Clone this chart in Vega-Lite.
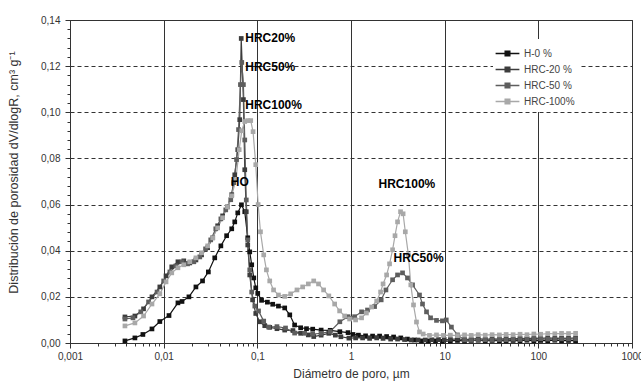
{
"$schema": "https://vega.github.io/schema/vega-lite/v6.json",
"width": 562, "height": 323,
"autosize": {"type": "none"},
"padding": {"left": 70, "top": 20, "right": 9, "bottom": 40},
"background": "white",
"config": {"font": "Liberation Sans", "view": {"stroke": "#333", "strokeWidth": 1}},
"datasets": {
"series": [
{"s":"H-0 %","x":0.00386,"y":0.0009},{"s":"H-0 %","x":0.00493,"y":0.0022},{"s":"H-0 %","x":0.0060,"y":0.0037},{"s":"H-0 %","x":0.0075,"y":0.0061},{"s":"H-0 %","x":0.0091,"y":0.0093},{"s":"H-0 %","x":0.0114,"y":0.0119},{"s":"H-0 %","x":0.0142,"y":0.0174},{"s":"H-0 %","x":0.0157,"y":0.0180},{"s":"H-0 %","x":0.0186,"y":0.0200},{"s":"H-0 %","x":0.0221,"y":0.0243},{"s":"H-0 %","x":0.026,"y":0.0269},{"s":"H-0 %","x":0.030,"y":0.0308},{"s":"H-0 %","x":0.0351,"y":0.0369},{"s":"H-0 %","x":0.0408,"y":0.0421},{"s":"H-0 %","x":0.047,"y":0.0465},{"s":"H-0 %","x":0.0533,"y":0.0495},{"s":"H-0 %","x":0.0574,"y":0.0525},{"s":"H-0 %","x":0.0618,"y":0.0564},{"s":"H-0 %","x":0.0677,"y":0.0599},{"s":"H-0 %","x":0.0734,"y":0.0569},{"s":"H-0 %","x":0.079,"y":0.0456},{"s":"H-0 %","x":0.083,"y":0.0395},{"s":"H-0 %","x":0.0871,"y":0.0339},{"s":"H-0 %","x":0.0916,"y":0.0282},{"s":"H-0 %","x":0.0962,"y":0.0239},{"s":"H-0 %","x":0.101,"y":0.0215},{"s":"H-0 %","x":0.111,"y":0.0185},{"s":"H-0 %","x":0.128,"y":0.0177},{"s":"H-0 %","x":0.146,"y":0.0168},{"s":"H-0 %","x":0.168,"y":0.0160},{"s":"H-0 %","x":0.196,"y":0.0152},{"s":"H-0 %","x":0.222,"y":0.0122},{"s":"H-0 %","x":0.25,"y":0.0078},{"s":"H-0 %","x":0.29,"y":0.0066},{"s":"H-0 %","x":0.335,"y":0.0062},{"s":"H-0 %","x":0.39,"y":0.0060},{"s":"H-0 %","x":0.48,"y":0.0056},{"s":"H-0 %","x":0.60,"y":0.0055},{"s":"H-0 %","x":0.76,"y":0.0049},{"s":"H-0 %","x":0.93,"y":0.0045},{"s":"H-0 %","x":1.05,"y":0.0037},{"s":"H-0 %","x":1.2,"y":0.0034},{"s":"H-0 %","x":1.43,"y":0.0031},{"s":"H-0 %","x":1.7,"y":0.0030},{"s":"H-0 %","x":2.02,"y":0.0030},{"s":"H-0 %","x":2.4,"y":0.0028},{"s":"H-0 %","x":2.85,"y":0.0026},{"s":"H-0 %","x":3.4,"y":0.0022},{"s":"H-0 %","x":4.0,"y":0.0017},{"s":"H-0 %","x":4.76,"y":0.0013},{"s":"H-0 %","x":5.65,"y":0.0009},{"s":"H-0 %","x":6.7,"y":0.0009},{"s":"H-0 %","x":7.98,"y":0.0009},{"s":"H-0 %","x":9.46,"y":0.0007},{"s":"H-0 %","x":11.5,"y":0.0009},{"s":"H-0 %","x":13.7,"y":0.0011},{"s":"H-0 %","x":16.3,"y":0.0008},{"s":"H-0 %","x":19.2,"y":0.0010},{"s":"H-0 %","x":22.8,"y":0.0012},{"s":"H-0 %","x":27.1,"y":0.0009},{"s":"H-0 %","x":32.1,"y":0.0011},{"s":"H-0 %","x":38.4,"y":0.0010},{"s":"H-0 %","x":45.3,"y":0.0009},{"s":"H-0 %","x":53.8,"y":0.0011},{"s":"H-0 %","x":63.8,"y":0.0010},{"s":"H-0 %","x":75.6,"y":0.0012},{"s":"H-0 %","x":89.6,"y":0.0009},{"s":"H-0 %","x":106,"y":0.0011},{"s":"H-0 %","x":126,"y":0.0010},{"s":"H-0 %","x":150,"y":0.0012},{"s":"H-0 %","x":177,"y":0.0010},{"s":"H-0 %","x":210,"y":0.0011},{"s":"H-0 %","x":250,"y":0.0010},
{"s":"HRC-20 %","x":0.00386,"y":0.0113},{"s":"HRC-20 %","x":0.00493,"y":0.0117},{"s":"HRC-20 %","x":0.0061,"y":0.0148},{"s":"HRC-20 %","x":0.0075,"y":0.0200},{"s":"HRC-20 %","x":0.0091,"y":0.0243},{"s":"HRC-20 %","x":0.0106,"y":0.0291},{"s":"HRC-20 %","x":0.0122,"y":0.0330},{"s":"HRC-20 %","x":0.0142,"y":0.0352},{"s":"HRC-20 %","x":0.0164,"y":0.0356},{"s":"HRC-20 %","x":0.019,"y":0.0347},{"s":"HRC-20 %","x":0.0221,"y":0.0360},{"s":"HRC-20 %","x":0.0254,"y":0.0382},{"s":"HRC-20 %","x":0.0295,"y":0.0413},{"s":"HRC-20 %","x":0.0334,"y":0.0456},{"s":"HRC-20 %","x":0.0377,"y":0.0508},{"s":"HRC-20 %","x":0.0426,"y":0.0551},{"s":"HRC-20 %","x":0.048,"y":0.0590},{"s":"HRC-20 %","x":0.0533,"y":0.0643},{"s":"HRC-20 %","x":0.0574,"y":0.0729},{"s":"HRC-20 %","x":0.0618,"y":0.0838},{"s":"HRC-20 %","x":0.0649,"y":0.0968},{"s":"HRC-20 %","x":0.0673,"y":0.1320},{"s":"HRC-20 %","x":0.071,"y":0.1055},{"s":"HRC-20 %","x":0.0734,"y":0.0751},{"s":"HRC-20 %","x":0.0762,"y":0.0569},{"s":"HRC-20 %","x":0.079,"y":0.0425},{"s":"HRC-20 %","x":0.083,"y":0.0295},{"s":"HRC-20 %","x":0.089,"y":0.0187},{"s":"HRC-20 %","x":0.0962,"y":0.0128},{"s":"HRC-20 %","x":0.106,"y":0.0092},{"s":"HRC-20 %","x":0.12,"y":0.0075},{"s":"HRC-20 %","x":0.1356,"y":0.0068},{"s":"HRC-20 %","x":0.162,"y":0.0062},{"s":"HRC-20 %","x":0.196,"y":0.0056},{"s":"HRC-20 %","x":0.24,"y":0.0054},{"s":"HRC-20 %","x":0.29,"y":0.0042},{"s":"HRC-20 %","x":0.35,"y":0.0035},{"s":"HRC-20 %","x":0.40,"y":0.0028},{"s":"HRC-20 %","x":0.48,"y":0.0034},{"s":"HRC-20 %","x":0.58,"y":0.0042},{"s":"HRC-20 %","x":0.68,"y":0.0034},{"s":"HRC-20 %","x":0.78,"y":0.0027},{"s":"HRC-20 %","x":0.95,"y":0.0021},{"s":"HRC-20 %","x":1.12,"y":0.0022},{"s":"HRC-20 %","x":1.33,"y":0.0022},{"s":"HRC-20 %","x":1.58,"y":0.0020},{"s":"HRC-20 %","x":1.88,"y":0.0022},{"s":"HRC-20 %","x":2.2,"y":0.0020},{"s":"HRC-20 %","x":2.65,"y":0.0017},{"s":"HRC-20 %","x":3.14,"y":0.0017},{"s":"HRC-20 %","x":3.73,"y":0.0015},{"s":"HRC-20 %","x":4.4,"y":0.0013},{"s":"HRC-20 %","x":5.2,"y":0.0013},{"s":"HRC-20 %","x":6.2,"y":0.0013},{"s":"HRC-20 %","x":7.3,"y":0.0014},{"s":"HRC-20 %","x":8.6,"y":0.0015},{"s":"HRC-20 %","x":9.9,"y":0.0015},{"s":"HRC-20 %","x":11.5,"y":0.0016},{"s":"HRC-20 %","x":13.7,"y":0.0018},{"s":"HRC-20 %","x":16.3,"y":0.0015},{"s":"HRC-20 %","x":19.2,"y":0.0017},{"s":"HRC-20 %","x":22.8,"y":0.0019},{"s":"HRC-20 %","x":27.1,"y":0.0016},{"s":"HRC-20 %","x":32.1,"y":0.0018},{"s":"HRC-20 %","x":38.4,"y":0.0017},{"s":"HRC-20 %","x":45.3,"y":0.0019},{"s":"HRC-20 %","x":53.8,"y":0.0018},{"s":"HRC-20 %","x":63.8,"y":0.0020},{"s":"HRC-20 %","x":75.6,"y":0.0019},{"s":"HRC-20 %","x":89.6,"y":0.0021},{"s":"HRC-20 %","x":106,"y":0.0020},{"s":"HRC-20 %","x":126,"y":0.0022},{"s":"HRC-20 %","x":150,"y":0.0020},{"s":"HRC-20 %","x":177,"y":0.0021},{"s":"HRC-20 %","x":210,"y":0.0020},{"s":"HRC-20 %","x":250,"y":0.0022},
{"s":"HRC-50 %","x":0.00386,"y":0.0104},{"s":"HRC-50 %","x":0.0047,"y":0.0109},{"s":"HRC-50 %","x":0.0057,"y":0.0135},{"s":"HRC-50 %","x":0.0069,"y":0.0178},{"s":"HRC-50 %","x":0.0085,"y":0.0221},{"s":"HRC-50 %","x":0.0100,"y":0.0269},{"s":"HRC-50 %","x":0.01165,"y":0.0308},{"s":"HRC-50 %","x":0.0135,"y":0.0334},{"s":"HRC-50 %","x":0.0157,"y":0.0352},{"s":"HRC-50 %","x":0.018,"y":0.0343},{"s":"HRC-50 %","x":0.021,"y":0.0352},{"s":"HRC-50 %","x":0.0243,"y":0.0373},{"s":"HRC-50 %","x":0.028,"y":0.0408},{"s":"HRC-50 %","x":0.0318,"y":0.0447},{"s":"HRC-50 %","x":0.036,"y":0.0495},{"s":"HRC-50 %","x":0.0408,"y":0.0538},{"s":"HRC-50 %","x":0.046,"y":0.0577},{"s":"HRC-50 %","x":0.052,"y":0.0621},{"s":"HRC-50 %","x":0.056,"y":0.0695},{"s":"HRC-50 %","x":0.060,"y":0.0795},{"s":"HRC-50 %","x":0.063,"y":0.0925},{"s":"HRC-50 %","x":0.066,"y":0.1120},{"s":"HRC-50 %","x":0.0682,"y":0.1216},{"s":"HRC-50 %","x":0.071,"y":0.1120},{"s":"HRC-50 %","x":0.0734,"y":0.0880},{"s":"HRC-50 %","x":0.0762,"y":0.0620},{"s":"HRC-50 %","x":0.079,"y":0.0447},{"s":"HRC-50 %","x":0.083,"y":0.0317},{"s":"HRC-50 %","x":0.0871,"y":0.0221},{"s":"HRC-50 %","x":0.094,"y":0.0160},{"s":"HRC-50 %","x":0.103,"y":0.0139},{"s":"HRC-50 %","x":0.117,"y":0.0095},{"s":"HRC-50 %","x":0.132,"y":0.0069},{"s":"HRC-50 %","x":0.162,"y":0.0071},{"s":"HRC-50 %","x":0.2,"y":0.0065},{"s":"HRC-50 %","x":0.25,"y":0.0043},{"s":"HRC-50 %","x":0.32,"y":0.0042},{"s":"HRC-50 %","x":0.39,"y":0.0039},{"s":"HRC-50 %","x":0.48,"y":0.0042},{"s":"HRC-50 %","x":0.6,"y":0.0050},{"s":"HRC-50 %","x":0.76,"y":0.0092},{"s":"HRC-50 %","x":0.93,"y":0.0114},{"s":"HRC-50 %","x":1.093,"y":0.0114},{"s":"HRC-50 %","x":1.297,"y":0.0135},{"s":"HRC-50 %","x":1.5,"y":0.0143},{"s":"HRC-50 %","x":1.785,"y":0.0158},{"s":"HRC-50 %","x":2.1,"y":0.0187},{"s":"HRC-50 %","x":2.36,"y":0.0230},{"s":"HRC-50 %","x":2.78,"y":0.0274},{"s":"HRC-50 %","x":3.14,"y":0.0295},{"s":"HRC-50 %","x":3.55,"y":0.0304},{"s":"HRC-50 %","x":4.01,"y":0.0282},{"s":"HRC-50 %","x":4.54,"y":0.0252},{"s":"HRC-50 %","x":5.385,"y":0.0208},{"s":"HRC-50 %","x":5.8,"y":0.0169},{"s":"HRC-50 %","x":6.4,"y":0.0135},{"s":"HRC-50 %","x":7.07,"y":0.0109},{"s":"HRC-50 %","x":8.18,"y":0.0098},{"s":"HRC-50 %","x":9.46,"y":0.0096},{"s":"HRC-50 %","x":10.4,"y":0.0100},{"s":"HRC-50 %","x":11.8,"y":0.0069},{"s":"HRC-50 %","x":13.7,"y":0.0035},{"s":"HRC-50 %","x":16.3,"y":0.0013},{"s":"HRC-50 %","x":19.2,"y":0.0011},{"s":"HRC-50 %","x":22.8,"y":0.0013},{"s":"HRC-50 %","x":27.1,"y":0.0014},{"s":"HRC-50 %","x":32.1,"y":0.0013},{"s":"HRC-50 %","x":38.4,"y":0.0015},{"s":"HRC-50 %","x":45.3,"y":0.0014},{"s":"HRC-50 %","x":53.8,"y":0.0016},{"s":"HRC-50 %","x":63.8,"y":0.0015},{"s":"HRC-50 %","x":75.6,"y":0.0017},{"s":"HRC-50 %","x":89.6,"y":0.0016},{"s":"HRC-50 %","x":106,"y":0.0018},{"s":"HRC-50 %","x":126,"y":0.0017},{"s":"HRC-50 %","x":150,"y":0.0016},{"s":"HRC-50 %","x":177,"y":0.0018},{"s":"HRC-50 %","x":210,"y":0.0017},{"s":"HRC-50 %","x":250,"y":0.0018},
{"s":"HRC-100%","x":0.00386,"y":0.0074},{"s":"HRC-100%","x":0.00493,"y":0.0087},{"s":"HRC-100%","x":0.0061,"y":0.0117},{"s":"HRC-100%","x":0.0075,"y":0.0169},{"s":"HRC-100%","x":0.0091,"y":0.0213},{"s":"HRC-100%","x":0.0106,"y":0.0265},{"s":"HRC-100%","x":0.0122,"y":0.0304},{"s":"HRC-100%","x":0.0142,"y":0.0326},{"s":"HRC-100%","x":0.0164,"y":0.0339},{"s":"HRC-100%","x":0.019,"y":0.0352},{"s":"HRC-100%","x":0.0221,"y":0.0369},{"s":"HRC-100%","x":0.0254,"y":0.0391},{"s":"HRC-100%","x":0.0295,"y":0.0421},{"s":"HRC-100%","x":0.0334,"y":0.0456},{"s":"HRC-100%","x":0.0377,"y":0.0499},{"s":"HRC-100%","x":0.0426,"y":0.0543},{"s":"HRC-100%","x":0.048,"y":0.0590},{"s":"HRC-100%","x":0.0533,"y":0.0638},{"s":"HRC-100%","x":0.059,"y":0.0708},{"s":"HRC-100%","x":0.064,"y":0.0838},{"s":"HRC-100%","x":0.0682,"y":0.0920},{"s":"HRC-100%","x":0.0734,"y":0.0960},{"s":"HRC-100%","x":0.079,"y":0.0964},{"s":"HRC-100%","x":0.085,"y":0.0964},{"s":"HRC-100%","x":0.09,"y":0.0916},{"s":"HRC-100%","x":0.0962,"y":0.0773},{"s":"HRC-100%","x":0.102,"y":0.0600},{"s":"HRC-100%","x":0.108,"y":0.0482},{"s":"HRC-100%","x":0.117,"y":0.0382},{"s":"HRC-100%","x":0.125,"y":0.0317},{"s":"HRC-100%","x":0.1356,"y":0.0269},{"s":"HRC-100%","x":0.149,"y":0.0230},{"s":"HRC-100%","x":0.168,"y":0.0208},{"s":"HRC-100%","x":0.196,"y":0.0202},{"s":"HRC-100%","x":0.227,"y":0.0213},{"s":"HRC-100%","x":0.265,"y":0.0230},{"s":"HRC-100%","x":0.305,"y":0.0243},{"s":"HRC-100%","x":0.35,"y":0.0256},{"s":"HRC-100%","x":0.40,"y":0.0269},{"s":"HRC-100%","x":0.45,"y":0.0256},{"s":"HRC-100%","x":0.51,"y":0.0230},{"s":"HRC-100%","x":0.58,"y":0.0204},{"s":"HRC-100%","x":0.669,"y":0.0169},{"s":"HRC-100%","x":0.756,"y":0.0139},{"s":"HRC-100%","x":0.855,"y":0.0117},{"s":"HRC-100%","x":0.966,"y":0.0104},{"s":"HRC-100%","x":1.12,"y":0.0100},{"s":"HRC-100%","x":1.297,"y":0.0109},{"s":"HRC-100%","x":1.46,"y":0.0130},{"s":"HRC-100%","x":1.66,"y":0.0156},{"s":"HRC-100%","x":1.88,"y":0.0182},{"s":"HRC-100%","x":2.07,"y":0.0221},{"s":"HRC-100%","x":2.2,"y":0.0256},{"s":"HRC-100%","x":2.4,"y":0.0295},{"s":"HRC-100%","x":2.58,"y":0.0343},{"s":"HRC-100%","x":2.78,"y":0.0404},{"s":"HRC-100%","x":2.95,"y":0.0465},{"s":"HRC-100%","x":3.14,"y":0.0525},{"s":"HRC-100%","x":3.38,"y":0.0569},{"s":"HRC-100%","x":3.6,"y":0.0560},{"s":"HRC-100%","x":3.8,"y":0.0482},{"s":"HRC-100%","x":4.1,"y":0.0382},{"s":"HRC-100%","x":4.35,"y":0.0252},{"s":"HRC-100%","x":4.65,"y":0.0165},{"s":"HRC-100%","x":5.0,"y":0.0091},{"s":"HRC-100%","x":5.385,"y":0.0048},{"s":"HRC-100%","x":5.9,"y":0.0039},{"s":"HRC-100%","x":6.885,"y":0.0033},{"s":"HRC-100%","x":8.18,"y":0.0035},{"s":"HRC-100%","x":9.7,"y":0.0033},{"s":"HRC-100%","x":11.5,"y":0.0034},{"s":"HRC-100%","x":13.7,"y":0.0032},{"s":"HRC-100%","x":16.3,"y":0.0035},{"s":"HRC-100%","x":19.2,"y":0.0033},{"s":"HRC-100%","x":22.8,"y":0.0036},{"s":"HRC-100%","x":27.1,"y":0.0034},{"s":"HRC-100%","x":32.1,"y":0.0036},{"s":"HRC-100%","x":38.4,"y":0.0035},{"s":"HRC-100%","x":45.3,"y":0.0037},{"s":"HRC-100%","x":53.8,"y":0.0036},{"s":"HRC-100%","x":63.8,"y":0.0038},{"s":"HRC-100%","x":75.6,"y":0.0036},{"s":"HRC-100%","x":89.6,"y":0.0039},{"s":"HRC-100%","x":106,"y":0.0038},{"s":"HRC-100%","x":126,"y":0.0041},{"s":"HRC-100%","x":150,"y":0.0040},{"s":"HRC-100%","x":177,"y":0.0042},{"s":"HRC-100%","x":210,"y":0.0041},{"s":"HRC-100%","x":250,"y":0.0042}
],
"notes": [
{"t":"HRC20%","x":0.0743,"y":0.1323},{"t":"HRC50%","x":0.0743,"y":0.1195},{"t":"HRC100%","x":0.0743,"y":0.1033},{"t":"HO","x":0.052,"y":0.0699},{"t":"HRC100%","x":1.968,"y":0.069},{"t":"HRC50%","x":2.846,"y":0.0369}
]
},
"layer": [
{
"data": {"name": "series"},
"mark": {"type": "line", "strokeWidth": 1.2, "point": {"filled": true, "shape": "square", "size": 22}},
"encoding": {
"x": {"field": "x", "type": "quantitative", "scale": {"type": "log", "domain": [0.001, 1000], "nice": false},
"axis": {"values": [0.001, 0.01, 0.1, 1, 10, 100, 1000], "labelExpr": "replace(toString(datum.value), '.', ',')", "grid": true, "gridColor": "#333", "gridWidth": 1, "gridOpacity": 1, "tickSize": 5, "tickColor": "#333", "domainColor": "#333", "labelFontSize": 10, "labelColor": "#333", "labelPadding": 3, "labelFlush": false, "labelOverlap": false, "title": "Diámetro de poro, µm", "titleFontSize": 12, "titleFontWeight": "normal", "titleColor": "#333", "titlePadding": 7}},
"y": {"field": "y", "type": "quantitative", "scale": {"domain": [0, 0.14], "nice": false},
"axis": {"values": [0, 0.02, 0.04, 0.06, 0.08, 0.1, 0.12, 0.14], "labelExpr": "replace(format(datum.value, '.2f'), '.', ',')", "grid": true, "gridDash": [4, 3], "gridColor": "#333", "gridWidth": 1, "gridOpacity": 1, "tickSize": 5, "tickColor": "#333", "domainColor": "#333", "labelFontSize": 10, "labelColor": "#333", "labelPadding": 5, "title": "Distribución de porosidad dV/dlogR, cm³ g⁻¹", "titleFontSize": 12.5, "titleFontWeight": "normal", "titleColor": "#333", "titlePadding": 20, "titleY": 152}},
"color": {"field": "s", "type": "nominal", "sort": ["H-0 %", "HRC-20 %", "HRC-50 %", "HRC-100%"],
"scale": {"domain": ["H-0 %", "HRC-20 %", "HRC-50 %", "HRC-100%"], "range": ["#111111", "#3c3c3c", "#5e5e5e", "#a8a8a8"]},
"legend": {"title": null, "orient": "none", "legendX": 423, "legendY": 19, "fillColor": "white", "padding": 5, "symbolType": "M-1.4,0H1.4M-0.28,-0.28H0.28V0.28H-0.28Z", "symbolSize": 289, "symbolStrokeWidth": 1.3, "labelFontSize": 10, "labelColor": "#444", "rowPadding": 1, "labelOffset": 7,
"encode": {"symbols": {"update": {"fill": {"scale": "color", "field": "value"}, "stroke": {"scale": "color", "field": "value"}}}}}}
}
},
{
"data": {"name": "notes"},
"mark": {"type": "text", "align": "left", "baseline": "middle", "fontWeight": "bold", "fontSize": 12, "color": "#000"},
"encoding": {
"x": {"field": "x", "type": "quantitative", "scale": {"type": "log", "domain": [0.001, 1000], "nice": false},
"axis": {"orient": "bottom", "values": [0.002,0.003,0.004,0.005,0.006,0.007,0.008,0.009,0.02,0.03,0.04,0.05,0.06,0.07,0.08,0.09,0.2,0.3,0.4,0.5,0.6,0.7,0.8,0.9,2,3,4,5,6,7,8,9,20,30,40,50,60,70,80,90,200,300,400,500,600,700,800,900], "labels": false, "grid": false, "domain": false, "tickSize": 3, "tickColor": "#333", "title": null}},
"y": {"field": "y", "type": "quantitative", "scale": {"domain": [0, 0.14], "nice": false},
"axis": {"orient": "left", "values": [0.004,0.008,0.012,0.016,0.024,0.028,0.032,0.036,0.044,0.048,0.052,0.056,0.064,0.068,0.072,0.076,0.084,0.088,0.092,0.096,0.104,0.108,0.112,0.116,0.124,0.128,0.132,0.136], "labels": false, "grid": false, "domain": false, "tickSize": 3, "tickColor": "#333", "title": null}},
"text": {"field": "t", "type": "nominal"}
}
}
],
"resolve": {"axis": {"x": "independent", "y": "independent"}}
}
